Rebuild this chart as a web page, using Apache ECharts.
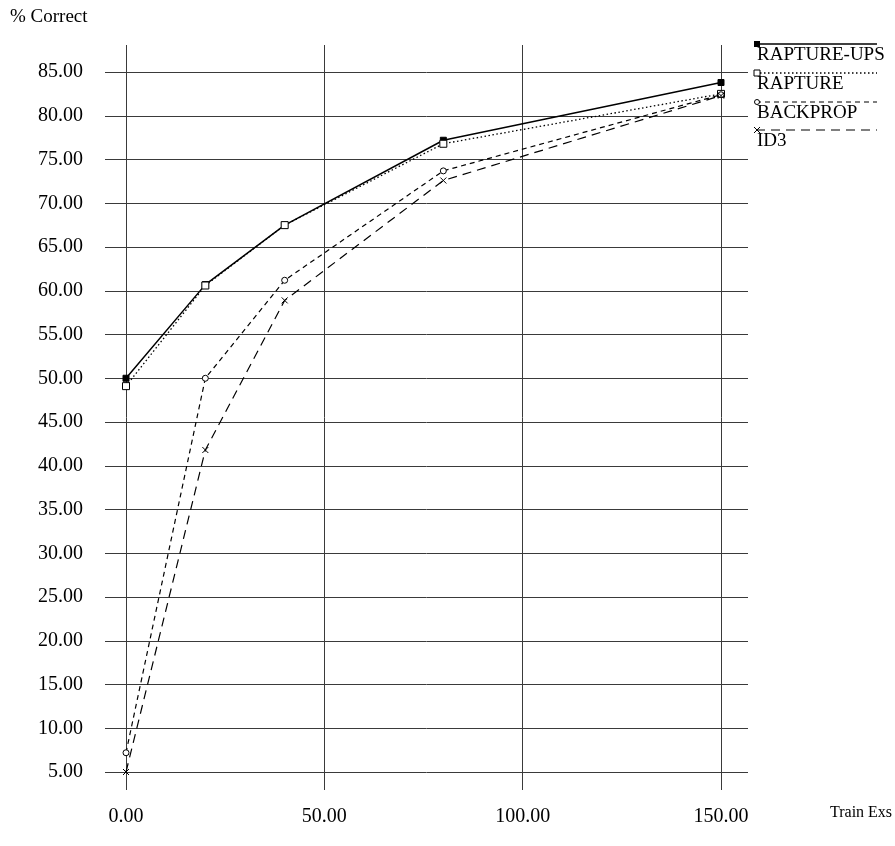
<!DOCTYPE html>
<html><head><meta charset="utf-8">
<script src="https://cdn.jsdelivr.net/npm/echarts@6/dist/echarts.min.js"></script>
<style>html,body{margin:0;padding:0;background:#fff}#c{width:895px;height:846px}</style>
</head><body><div id="c"></div>
<script>
const trainExs = [0, 20, 40, 80, 150];
const raptureUps = [50.0, 60.7, 67.5, 77.2, 83.8];
const rapture = [49.1, 60.6, 67.5, 76.8, 82.5];
const backprop = [7.2, 50.0, 61.2, 73.7, 82.4];
const id3 = [5.0, 41.8, 58.9, 72.6, 82.3];
const seriesNames = ['RAPTURE-UPS', 'RAPTURE', 'BACKPROP', 'ID3'];
const xTicks = [0, 50, 100, 150];
const yTickMin = 5, yTickMax = 85, yTickStep = 5;

const FONT = '"Liberation Serif", "Times New Roman", serif';
const FS = 19;
const AXFS = 20;
const GRID = '#3a3a3a';
const CROSS = 'path://M0,0L10,10M10,0L0,10';

// pixel geometry
const x0px = 126, x150px = 721;
const pxPerUnit = (x150px - x0px) / 150;
const bLeft = 105, bRight = 748;

function pairs(ys){ return trainExs.map((x,i)=>[x, ys[i]]); }

const styles = [
  {data: raptureUps, lineType: 'solid', width: 1.5, symbol: 'rect', size: 6, fill: '#000'},
  {data: rapture, lineType: [1.5, 2.5], width: 1.3, symbol: 'rect', size: 7, fill: '#fff'},
  {data: backprop, lineType: [5, 4], width: 1.2, symbol: 'circle', size: 6, fill: '#fff'},
  {data: id3, lineType: [9, 6], width: 1.2, symbol: CROSS, size: 6, fill: 'none'}
];

const series = styles.map((s, i) => ({
  name: seriesNames[i], type: 'line', xAxisIndex: 1, yAxisIndex: 1,
  data: pairs(s.data), symbol: s.symbol, symbolSize: s.size, showSymbol: true,
  lineStyle: {color: '#000', width: s.width, type: s.lineType},
  itemStyle: {color: s.fill, borderColor: '#000', borderWidth: 1},
  emphasis: {disabled: true}, animation: false, z: 5
}));

// legend drawn as graphics
const legendY = [44, 73, 102, 130];
const graphic = [
  {type: 'text', left: 10, top: 8, style: {text: '% Correct', font: FS + 'px ' + FONT, fill: '#000'}},
  {type: 'text', left: 830, top: 805, style: {text: 'Train Exs', font: '16px ' + FONT, fill: '#000'}}
];
styles.forEach((s, i) => {
  const y = legendY[i];
  graphic.push({type: 'line', shape: {x1: 756, y1: y, x2: 877, y2: y},
    style: {stroke: '#000', lineWidth: s.width, lineDash: s.lineType === 'solid' ? null : s.lineType}});
  let sym;
  if (i === 0) sym = {type: 'rect', shape: {x: 754, y: y - 3, width: 6, height: 6}, style: {fill: '#000'}};
  else if (i === 1) sym = {type: 'rect', shape: {x: 754, y: y - 3, width: 6, height: 6}, style: {fill: '#fff', stroke: '#000', lineWidth: 1}};
  else if (i === 2) sym = {type: 'circle', shape: {cx: 757, cy: y, r: 2.5}, style: {fill: '#fff', stroke: '#000', lineWidth: 1}};
  else sym = {type: 'polyline', shape: {points: [[754, y - 3], [760, y + 3]]}, style: {stroke: '#000', lineWidth: 1}};
  graphic.push(sym);
  if (i === 3) graphic.push({type: 'polyline', shape: {points: [[760, y - 3], [754, y + 3]]}, style: {stroke: '#000', lineWidth: 1}});
  graphic.push({type: 'text', left: 757, top: y + 2, style: {text: seriesNames[i], font: FS + 'px ' + FONT, fill: '#000'}});
});

const option = {
  backgroundColor: '#fff',
  animation: false,
  grid: [
    {left: x0px, right: 895 - x150px, top: 45, bottom: 846 - 790},
    {left: bLeft, right: 895 - bRight, top: 72, bottom: 846 - 772}
  ],
  xAxis: [
    {type: 'value', gridIndex: 0, min: xTicks[0], max: xTicks[xTicks.length - 1], interval: 50,
      axisLine: {show: false}, axisTick: {show: false},
      splitLine: {show: true, lineStyle: {color: GRID, width: 1}},
      axisLabel: {margin: 17, formatter: v => v.toFixed(2), fontFamily: FONT, fontSize: AXFS, color: '#000'}},
    {type: 'value', gridIndex: 1, min: (bLeft - x0px) / pxPerUnit, max: (bRight - x0px) / pxPerUnit,
      show: false, splitLine: {show: false}}
  ],
  yAxis: [
    {type: 'value', gridIndex: 0, min: 0, max: 1, show: false, splitLine: {show: false}},
    {type: 'value', gridIndex: 1, min: yTickMin, max: yTickMax, interval: yTickStep,
      axisLine: {show: false}, axisTick: {show: false},
      splitLine: {show: true, lineStyle: {color: GRID, width: 1}},
      axisLabel: {margin: 22, formatter: v => v.toFixed(2), fontFamily: FONT, fontSize: AXFS, color: '#000'}}
  ],
  series: series,
  graphic: graphic
};
const chart = echarts.init(document.getElementById('c'), null, {renderer: 'canvas'});
chart.setOption(option);
</script></body></html>
